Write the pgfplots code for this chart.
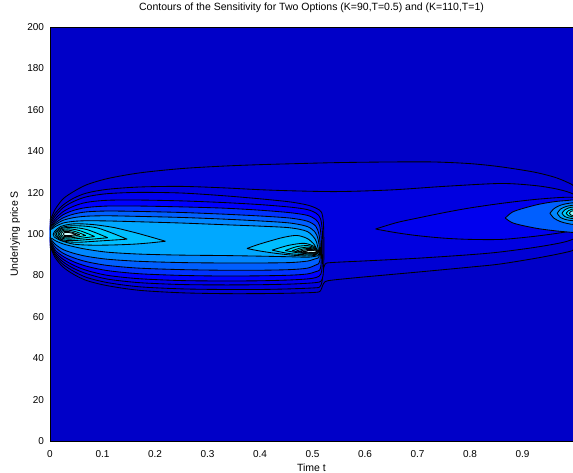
\documentclass[border=0pt]{standalone}
\usepackage{fontspec}
\setmainfont{Liberation Sans}
\usepackage{pgfplots}
\pgfplotsset{compat=1.18}

% jet-like shades, low to high
\definecolor{c0}{RGB}{0,0,200}
\definecolor{c1}{RGB}{0,0,212}
\definecolor{c2}{RGB}{0,0,224}
\definecolor{c3}{RGB}{0,0,238}
\definecolor{c4}{RGB}{0,0,255}
\definecolor{c5}{RGB}{0,50,255}
\definecolor{c6}{RGB}{0,95,255}
\definecolor{c7}{RGB}{0,135,255}
\definecolor{c8}{RGB}{0,168,255}
\definecolor{c9}{RGB}{0,190,255}
\definecolor{c10}{RGB}{0,208,255}
\definecolor{c11}{RGB}{0,224,255}
\definecolor{c12}{RGB}{0,240,255}
\definecolor{c13}{RGB}{70,250,255}
\definecolor{c14}{RGB}{140,255,255}
\definecolor{c15}{RGB}{210,255,255}

\pgfplotsset{cl/.style={smooth, tension=0.5, draw=black, line width=0.85pt, fill=#1, mark=none}}

\begin{document}
\begin{tikzpicture}
\useasboundingbox (-50pt,-31pt) rectangle (523pt,441pt);
\begin{axis}[
    at={(0pt,0pt)}, anchor=south west,
    width=523pt, height=414pt, scale only axis,
    xmin=0, xmax=0.996, ymin=0, ymax=200,
    xtick={0,0.1,0.2,0.3,0.4,0.5,0.6,0.7,0.8,0.9},
    ytick={0,20,40,60,80,100,120,140,160,180,200},
    tick style={draw=none},
    axis on top,
    axis background/.style={fill=c0},
    axis line style={line width=0.5pt},
    /pgf/number format/assume math mode=true,
    ticklabel style={font=\fontsize{10}{12}\selectfont},
    xticklabel style={anchor=base, yshift=-16pt},
    yticklabel style={anchor=east, xshift=-2.5pt},
    title={Contours of the Sensitivity for Two Options (K=90,T=0.5) and (K=110,T=1)},
    title style={at={(axis description cs:0.5,1.0254)}, anchor=base, font=\fontsize{10.5}{12}\selectfont},
    xlabel={Time t},
    xlabel style={at={(axis description cs:0.5,-0.0725)}, anchor=base, font=\fontsize{10.5}{12}\selectfont},
    ylabel={Underlying price S},
    ylabel style={at={(axis description cs:-0.0612,0.5)}, anchor=base, font=\fontsize{10.5}{12}\selectfont},
]
% level 1, both options
\addplot[cl=c1] coordinates {
(-0.008,110) (0,107) (0.01,112) (0.025,117) (0.045,120.5) (0.07,123.8) (0.11,126.8) (0.17,129.5) (0.25,131.6) (0.33,132.8) (0.4,133.5) (0.47,134) (0.55,134.5) (0.65,134.8) (0.73,134.8) (0.8,134) (0.857,132.5) (0.92,130) (0.96,127.5) (0.985,125) (1.0,122.8) (1.02,117) (1.035,110) (1.02,100) (1.0,93) (0.985,91.3) (0.93,88.5) (0.857,85.5) (0.8,84) (0.7,81.6) (0.6,79.3) (0.54,77.8) (0.524,77) (0.519,75) (0.515,72.5) (0.505,71.8) (0.457,71.4) (0.4,71.2) (0.33,71.2) (0.25,71.6) (0.17,72.8) (0.11,75) (0.07,77.5) (0.045,80.5) (0.025,84) (0.01,88.5) (0,93.5) (-0.008,90)
};
% level 2
\addplot[cl=c2] coordinates {
(-0.008,109) (0,106) (0.01,110) (0.025,114) (0.045,117.3) (0.07,119.8) (0.11,121.6) (0.17,122.7) (0.25,123) (0.33,122.3) (0.4,121.4) (0.47,120.8) (0.55,120.5) (0.65,121.3) (0.75,123) (0.857,124.4) (0.92,123.5) (0.96,122) (0.99,120) (1.01,117) (1.03,110) (1.01,100) (0.985,96.5) (0.93,93.8) (0.857,91.3) (0.8,90) (0.7,88.3) (0.6,87) (0.536,86.2) (0.524,85.5) (0.52,82) (0.518,77) (0.514,74.5) (0.505,74) (0.457,73.5) (0.4,73.2) (0.33,73.2) (0.25,73.5) (0.17,74.5) (0.11,76.5) (0.07,79) (0.045,82) (0.025,85.3) (0.01,89.5) (0,94.5) (-0.008,91.5)
};
% second option alone, t > 0.5
\addplot[cl=c3] coordinates {
(0.62,102.4) (0.66,105.5) (0.7,107.7) (0.75,110.3) (0.8,112.6) (0.86,114.8) (0.92,116.6) (0.97,117.6) (1.0,117.6) (1.02,115) (1.035,110) (1.02,104.5) (1.0,102) (0.97,100.5) (0.92,98.8) (0.86,97.4) (0.8,97.4) (0.75,98) (0.7,99.2) (0.66,100.6) (0.62,102.4)
};
\addplot[cl=c6] coordinates {
(0.867,107.7) (0.88,110.5) (0.9,112.3) (0.93,114.3) (0.96,115.6) (0.985,116.2) (1.0,116.4) (1.02,115) (1.03,109) (1.02,102) (1.0,100.8) (0.985,101) (0.96,101.6) (0.93,102.6) (0.9,104.1) (0.88,105.5) (0.867,107.7)
};
\addplot[cl=c7] coordinates {
(0.952,110) (0.96,112.3) (0.972,113.9) (0.985,114.7) (1.0,115.1) (1.02,114) (1.03,110) (1.02,106) (1.0,104.6) (0.985,105.1) (0.972,106) (0.96,107.6) (0.952,110)
};
\addplot[cl=c8] coordinates {
(0.966,110) (0.972,112) (0.982,113.2) (0.993,113.8) (1.01,113.8) (1.03,110) (1.01,106.5) (0.993,106.5) (0.982,107) (0.972,108) (0.966,110)
};
\addplot[cl=c10] coordinates {
(0.975,110) (0.98,111.6) (0.988,112.6) (0.997,113) (1.015,112.8) (1.03,110) (1.015,107.3) (0.997,107.4) (0.988,107.8) (0.98,108.5) (0.975,110)
};
\addplot[cl=c12] coordinates {
(0.983,110) (0.987,111.2) (0.993,111.9) (1.0,112.2) (1.015,112) (1.03,110) (1.015,108.2) (1.0,108.1) (0.993,108.4) (0.987,108.9) (0.983,110)
};
\addplot[cl=c14] coordinates {
(0.989,110) (0.992,110.9) (0.997,111.3) (1.01,111.3) (1.02,110) (1.01,108.8) (0.997,108.8) (0.992,109.2) (0.989,110)
};
% first option blob, t < 0.5
\addplot[cl=c3] coordinates {
(-0.008,107.5) (0,105) (0.01,108.7) (0.025,112.7) (0.045,115.7) (0.07,118) (0.11,119.5) (0.17,120.1) (0.25,119.8) (0.33,118.5) (0.4,117) (0.457,115.5) (0.49,114) (0.508,112.3) (0.517,110.5) (0.5205,106) (0.5215,98) (0.5215,88) (0.52,80) (0.516,77.2) (0.508,76.6) (0.49,76.2) (0.457,75.8) (0.4,75.5) (0.33,75.4) (0.25,75.6) (0.17,76.5) (0.11,78.2) (0.07,80.8) (0.045,83.4) (0.025,86.5) (0.01,90.3) (0,95) (-0.008,92.5)
};
\addplot[cl=c4] coordinates {
(-0.008,106.5) (0,104) (0.01,107.3) (0.025,110.8) (0.045,113.4) (0.07,115.3) (0.11,116.3) (0.17,116.4) (0.25,116) (0.33,115.2) (0.4,114.2) (0.457,113) (0.49,111.8) (0.507,110) (0.515,107.5) (0.5185,102) (0.5195,94) (0.5185,85) (0.5155,80.5) (0.507,79) (0.49,78.3) (0.457,77.8) (0.4,77.4) (0.33,77.3) (0.25,77.5) (0.17,78.4) (0.11,80) (0.07,82.4) (0.045,84.9) (0.025,87.8) (0.01,91.2) (0,96) (-0.008,93.5)
};
\addplot[cl=c5] coordinates {
(-0.008,106) (0,103.5) (0.01,106.2) (0.025,109.3) (0.045,111.4) (0.07,112.8) (0.11,113.5) (0.17,113.5) (0.25,113.1) (0.33,112.5) (0.4,111.5) (0.457,110.3) (0.49,109) (0.506,107) (0.5135,104) (0.5165,98) (0.517,91) (0.516,85) (0.5135,82.6) (0.506,81.8) (0.49,80.7) (0.457,80.1) (0.4,79.8) (0.33,79.7) (0.25,80) (0.17,80.8) (0.11,82.3) (0.07,84.4) (0.045,86.6) (0.025,89.2) (0.01,92.2) (0,96.5) (-0.008,94)
};
\addplot[cl=c6] coordinates {
(-0.008,105.5) (0,103) (0.01,105.3) (0.025,107.8) (0.045,109.6) (0.07,110.7) (0.11,111.1) (0.17,110.9) (0.25,110.4) (0.33,109.6) (0.4,108.7) (0.457,107.7) (0.49,106.2) (0.506,103.8) (0.512,100) (0.5145,95) (0.515,90.5) (0.5138,87) (0.5115,85.6) (0.506,85) (0.49,83.5) (0.457,82.8) (0.4,82.5) (0.33,82.5) (0.25,82.8) (0.17,83.5) (0.11,84.8) (0.07,86.6) (0.045,88.5) (0.025,90.7) (0.01,93.6) (0,97) (-0.008,94.5)
};
\addplot[cl=c7] coordinates {
(-0.008,105) (0,102.5) (0.01,104.5) (0.025,106.6) (0.045,107.9) (0.07,108.6) (0.11,108.8) (0.17,108.5) (0.25,108) (0.33,107.2) (0.4,106.3) (0.457,105.3) (0.49,103.6) (0.505,100.8) (0.5105,97.5) (0.513,93.5) (0.5135,90.5) (0.5122,89) (0.51,88.3) (0.505,88) (0.49,86.9) (0.457,86.2) (0.4,86) (0.33,86) (0.25,86.2) (0.17,86.8) (0.11,87.8) (0.07,89.2) (0.045,90.7) (0.025,92.5) (0.01,95) (0,97.6) (-0.008,95)
};
\addplot[cl=c8] coordinates {
(-0.008,104.5) (0,102) (0.01,103.6) (0.025,105.3) (0.045,106.1) (0.07,106.4) (0.11,106.3) (0.17,105.9) (0.25,105.3) (0.33,104.5) (0.4,103.8) (0.457,103) (0.49,101.2) (0.505,97.5) (0.5092,94.5) (0.5115,91.8) (0.5118,90.3) (0.5102,89.5) (0.505,89.2) (0.49,88.8) (0.457,89) (0.4,89.3) (0.33,89.6) (0.25,89.8) (0.17,90.3) (0.11,91.2) (0.07,92.6) (0.045,93.9) (0.025,95.2) (0.01,96.8) (0,98.2) (-0.008,95.7)
};
% peak near t = 0
\addplot[cl=c9] coordinates {
(0.22,96.5) (0.19,98.7) (0.16,100.8) (0.12,103.2) (0.08,104.6) (0.045,104.9) (0.02,103.6) (0.008,101) (0.006,99.8) (0.008,98.6) (0.02,96.9) (0.045,95.1) (0.08,94.6) (0.12,94.7) (0.16,95.1) (0.19,95.7) (0.22,96.5)
};
\addplot[cl=c10] coordinates {
(0.147,97.5) (0.092,102.8) (0.05,104) (0.023,103.2) (0.009,100) (0.023,96.8) (0.05,96) (0.092,96.6) (0.147,97.5)
};
\addplot[cl=c11] coordinates {
(0.11,98.2) (0.0708,102.1) (0.0414,103.2) (0.0218,102.6) (0.012,100) (0.0218,97.4) (0.0414,96.8) (0.0708,97.3) (0.11,98.2)
};
\addplot[cl=c12] coordinates {
(0.085,98.8) (0.057,101.6) (0.036,102.5) (0.022,102) (0.015,100) (0.022,98) (0.036,97.5) (0.057,97.9) (0.085,98.8)
};
\addplot[cl=c13] coordinates {
(0.068,99.3) (0.048,101.2) (0.033,101.9) (0.023,101.5) (0.018,100) (0.023,98.5) (0.033,98.1) (0.048,98.4) (0.068,99.3)
};
\addplot[cl=c14] coordinates {
(0.057,99.6) (0.0426,100.8) (0.0318,101.3) (0.0246,101) (0.021,100) (0.0246,99) (0.0318,98.7) (0.0426,98.9) (0.057,99.6)
};
\addplot[cl=c15] coordinates {
(0.05,99.8) (0.04,100.5) (0.0325,100.8) (0.0275,100.65) (0.025,100) (0.0275,99.35) (0.0325,99.2) (0.04,99.3) (0.05,99.8)
};
% peak near t = 0.5
\addplot[cl=c9] coordinates {
(0.375,93) (0.395,94.8) (0.42,96.7) (0.445,98.4) (0.47,99.3) (0.49,97.8) (0.503,95) (0.508,92.5) (0.5095,90.8) (0.508,89.9) (0.503,89.6) (0.49,89.4) (0.47,89.6) (0.445,90.2) (0.42,91) (0.395,92) (0.375,93)
};
\addplot[cl=c10] coordinates {
(0.423,92.2) (0.454,94.5) (0.484,95.5) (0.503,94) (0.5095,92) (0.508,90.3) (0.5,90) (0.484,90) (0.454,90.6) (0.423,92.2)
};
\addplot[cl=c11] coordinates {
(0.448,92) (0.47,93.9) (0.491,94.4) (0.504,93.3) (0.5095,91.8) (0.508,90.6) (0.5,90.4) (0.488,90.5) (0.47,91) (0.448,92)
};
\addplot[cl=c12] coordinates {
(0.461,91.9) (0.478,93.3) (0.494,93.6) (0.505,92.8) (0.5095,91.6) (0.508,90.8) (0.5,90.7) (0.49,90.8) (0.476,91.2) (0.461,91.9)
};
\addplot[cl=c13] coordinates {
(0.469,91.8) (0.483,92.8) (0.496,93) (0.505,92.4) (0.5095,91.5) (0.508,90.9) (0.5,90.9) (0.49,91) (0.48,91.3) (0.469,91.8)
};
\addplot[cl=c14] coordinates {
(0.476,91.7) (0.487,92.4) (0.498,92.5) (0.506,92.1) (0.5095,91.4) (0.507,91) (0.5,91) (0.49,91.1) (0.483,91.3) (0.476,91.7)
};
\addplot[cl=c15] coordinates {
(0.482,91.6) (0.491,92) (0.5,92.1) (0.506,91.8) (0.509,91.4) (0.506,91.1) (0.499,91.1) (0.49,91.2) (0.482,91.6)
};
\end{axis}
\end{tikzpicture}
\end{document}
